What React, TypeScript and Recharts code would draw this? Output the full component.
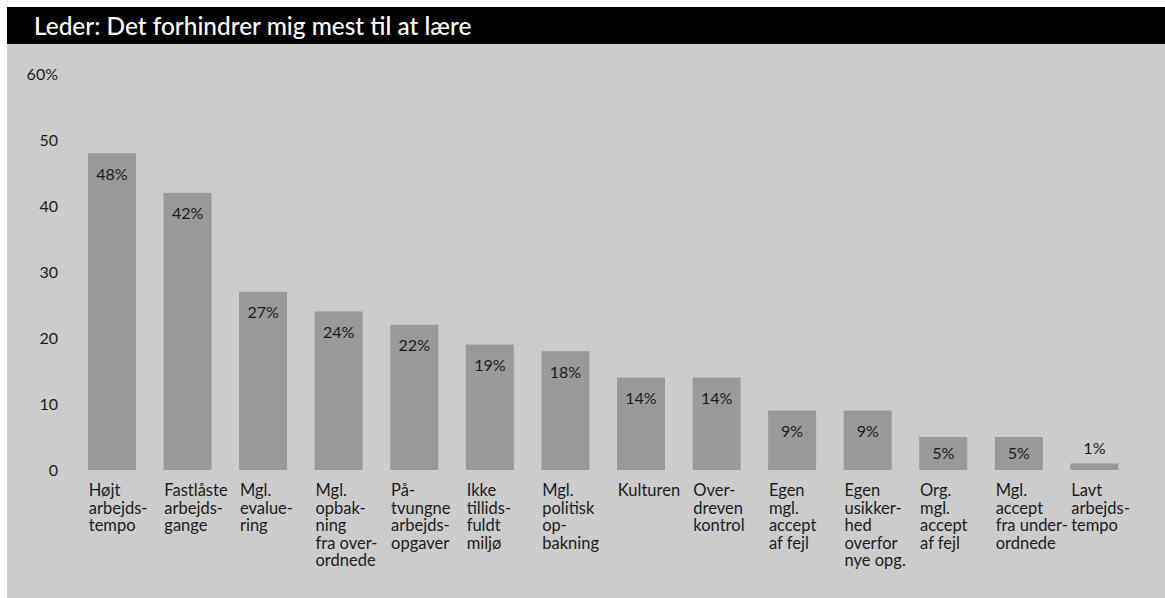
import { BarChart, Bar, XAxis, YAxis, LabelList } from "recharts";

const TITLE = "Leder: Det forhindrer mig mest til at lære";

const CATEGORIES = [
  "Højt\narbejds-\ntempo",
  "Fastlåste\narbejds-\ngange",
  "Mgl.\nevalue-\nring",
  "Mgl.\nopbak-\nning\nfra over-\nordnede",
  "På-\ntvungne\narbejds-\nopgaver",
  "Ikke\ntillids-\nfuldt\nmiljø",
  "Mgl.\npolitisk\nop-\nbakning",
  "Kulturen",
  "Over-\ndreven\nkontrol",
  "Egen\nmgl.\naccept\naf fejl",
  "Egen\nusikker-\nhed\noverfor\nnye opg.",
  "Org.\nmgl.\naccept\naf fejl",
  "Mgl.\naccept\nfra under-\nordnede",
  "Lavt\narbejds-\ntempo",
];

const VALUES = [48, 42, 27, 24, 22, 19, 18, 14, 14, 9, 9, 5, 5, 1];

const Y_TICKS = [0, 10, 20, 30, 40, 50, 60];

const data = CATEGORIES.map((name, i) => ({ name, value: VALUES[i] }));

const FONT = "Lato, 'Open Sans', sans-serif";
const TEXT = "#1c1c1c";
const BAR_SIZE = 48;

function CategoryTick({ x, y, payload }: any) {
  const lines = String(payload.value).split("\n");
  const left = x - BAR_SIZE / 2 + 1;
  return (
    <text x={left} y={y + 26} fill={TEXT} fontSize={16.5} fontFamily={FONT}>
      {lines.map((line, i) => (
        <tspan key={i} x={left} dy={i === 0 ? 0 : 17.5}>
          {line}
        </tspan>
      ))}
    </text>
  );
}

function ValueLabel({ x, y, width, height, value }: any) {
  const cx = x + width / 2;
  // short bars get their label above the bar
  const cy = height < 25 ? y - 16 : Math.min(y + 20, y + height - 18);
  return (
    <text
      x={cx}
      y={cy}
      textAnchor="middle"
      dominantBaseline="central"
      fill={TEXT}
      fontSize={16}
      fontFamily={FONT}
    >
      {value}%
    </text>
  );
}

export default function App() {
  return (
    <div
      style={{
        position: "absolute",
        left: 7,
        top: 7,
        width: 1158,
        height: 591,
        background: "#cccccc",
      }}
    >
      <div
        style={{
          height: 37,
          background: "#000",
          color: "#fff",
          fontFamily: FONT,
          fontSize: 24.4,
          fontWeight: 500,
          lineHeight: "37px",
          paddingLeft: 27,
          whiteSpace: "nowrap",
        }}
      >
        {TITLE}
      </div>
      <BarChart
        width={1158}
        height={554}
        data={data}
        margin={{ top: 30, right: 33, bottom: 0, left: 0 }}
      >
        <XAxis
          dataKey="name"
          interval={0}
          height={128}
          axisLine={false}
          tickLine={false}
          tickSize={0}
          tickMargin={0}
          tick={<CategoryTick />}
        />
        <YAxis
          domain={[0, 60]}
          ticks={Y_TICKS}
          width={67}
          axisLine={false}
          tickLine={false}
          tickSize={0}
          tickMargin={16}
          tickFormatter={(v: number) => (v === 60 ? "60%" : String(v))}
          tick={{ fill: TEXT, fontSize: 16, fontFamily: FONT }}
        />
        <Bar dataKey="value" fill="#999999" barSize={BAR_SIZE} isAnimationActive={false}>
          <LabelList dataKey="value" content={<ValueLabel />} />
        </Bar>
      </BarChart>
    </div>
  );
}
